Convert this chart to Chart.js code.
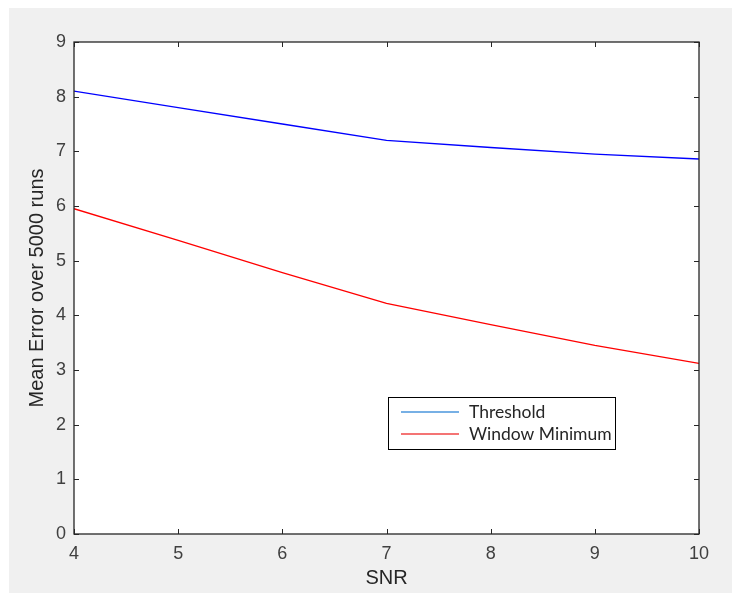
<!DOCTYPE html>
<html>
<head>
<meta charset="utf-8">
<script src="https://cdn.jsdelivr.net/npm/chart.js@4.4.1/dist/chart.umd.min.js"></script>
<style>
  html, body { margin: 0; padding: 0; background: #ffffff; }
  #frame { position: absolute; left: 9px; top: 8px; width: 723px; height: 585px; background: #f0f0f0; }
  canvas { display: block; }
</style>
</head>
<body>
<div id="frame"><canvas id="chart" width="723" height="585"></canvas></div>
<script>
// ── Data ──
const snr = [4, 5, 6, 7, 8, 9, 10];
const threshold = [8.1, 7.8, 7.5, 7.2, 7.07, 6.95, 6.86];
const windowMin = [5.95, 5.37, 4.78, 4.22, 3.83, 3.45, 3.12];
const xTicks = [4, 5, 6, 7, 8, 9, 10];
const yTicks = [0, 1, 2, 3, 4, 5, 6, 7, 8, 9];
const seriesNames = ["Threshold", "Window Minimum"];

// ── Styles ──
const AXIS = "#262626", TICK = "#404040";
const FONT = "'Liberation Sans', Arial, sans-serif";
const LEGEND_COLORS = ["#4a96dc", "#f04646"];

const toPoints = (ys) => snr.map((x, i) => ({ x, y: ys[i] }));

// white axes background
const bgPlugin = {
  id: "axesBg",
  beforeDraw(chart) {
    const { ctx, chartArea: a } = chart;
    ctx.save();
    ctx.fillStyle = "#ffffff";
    ctx.fillRect(a.left, a.top, a.right - a.left, a.bottom - a.top);
    ctx.restore();
  }
};

// box + inward tick marks, MATLAB style
const boxPlugin = {
  id: "box",
  afterDraw(chart) {
    const { ctx, chartArea: a, scales: { x, y } } = chart;
    ctx.save();
    ctx.strokeStyle = AXIS;
    ctx.lineWidth = 1.3;
    ctx.strokeRect(a.left, a.top, a.right - a.left, a.bottom - a.top);
    ctx.lineWidth = 1;
    ctx.beginPath();
    xTicks.forEach((v) => {
      const px = Math.round(x.getPixelForValue(v)) + 0.5;
      ctx.moveTo(px, a.bottom); ctx.lineTo(px, a.bottom - 5);
      ctx.moveTo(px, a.top); ctx.lineTo(px, a.top + 5);
    });
    yTicks.forEach((v) => {
      const py = Math.round(y.getPixelForValue(v)) + 0.5;
      ctx.moveTo(a.left, py); ctx.lineTo(a.left + 5, py);
      ctx.moveTo(a.right, py); ctx.lineTo(a.right - 5, py);
    });
    ctx.stroke();
    ctx.restore();
  }
};

// legend box inside the axes, lower right
const legendPlugin = {
  id: "boxLegend",
  afterDraw(chart) {
    const { ctx, chartArea: a } = chart;
    const bx = a.left + 314, by = a.top + 355, bw = 227, bh = 52;
    ctx.save();
    ctx.fillStyle = "#ffffff";
    ctx.fillRect(bx, by, bw, bh);
    ctx.strokeStyle = "#000000";
    ctx.lineWidth = 1;
    ctx.strokeRect(bx + 0.5, by + 0.5, bw, bh);
    ctx.font = "17.5px Lato, 'Open Sans', sans-serif";
    ctx.textBaseline = "middle";
    seriesNames.forEach((name, i) => {
      const ly = by + 15 + i * 22;
      ctx.strokeStyle = LEGEND_COLORS[i];
      ctx.lineWidth = 1.3;
      ctx.beginPath();
      ctx.moveTo(bx + 13, ly); ctx.lineTo(bx + 71, ly);
      ctx.stroke();
      ctx.fillStyle = "#262626";
      ctx.fillText(name, bx + 81, ly);
    });
    ctx.restore();
  }
};

new Chart(document.getElementById("chart"), {
  type: "line",
  data: {
    datasets: [
      { label: seriesNames[0], data: toPoints(threshold), borderColor: "#0000ff", borderWidth: 1.3, pointRadius: 0, tension: 0 },
      { label: seriesNames[1], data: toPoints(windowMin), borderColor: "#ff0000", borderWidth: 1.3, pointRadius: 0, tension: 0 }
    ]
  },
  options: {
    responsive: false,
    animation: false,
    layout: { padding: { top: 34, right: 33, left: 0, bottom: 0 } },
    plugins: { legend: { display: false }, tooltip: { enabled: false } },
    scales: {
      x: {
        type: "linear", min: 4, max: 10,
        afterFit: (s) => { s.height = 59; },
        afterBuildTicks: (s) => { s.ticks = xTicks.map((v) => ({ value: v })); },
        grid: { display: false, drawTicks: false },
        border: { display: false },
        ticks: { color: TICK, font: { family: FONT, size: 18 }, padding: 9, maxRotation: 0 },
        title: { display: true, text: "SNR", color: AXIS, font: { family: FONT, size: 20 }, padding: { top: 0, bottom: 3 } }
      },
      y: {
        min: 0, max: 9,
        afterFit: (s) => { s.width = 65; },
        afterBuildTicks: (s) => { s.ticks = yTicks.map((v) => ({ value: v })); },
        grid: { display: false, drawTicks: false },
        border: { display: false },
        ticks: { color: TICK, font: { family: FONT, size: 18 }, padding: 8 },
        title: { display: true, text: "Mean Error over 5000 runs", color: AXIS, font: { family: FONT, size: 20 }, padding: { top: 16, bottom: 0 } }
      }
    }
  },
  plugins: [bgPlugin, boxPlugin, legendPlugin]
});
</script>
</body>
</html>
